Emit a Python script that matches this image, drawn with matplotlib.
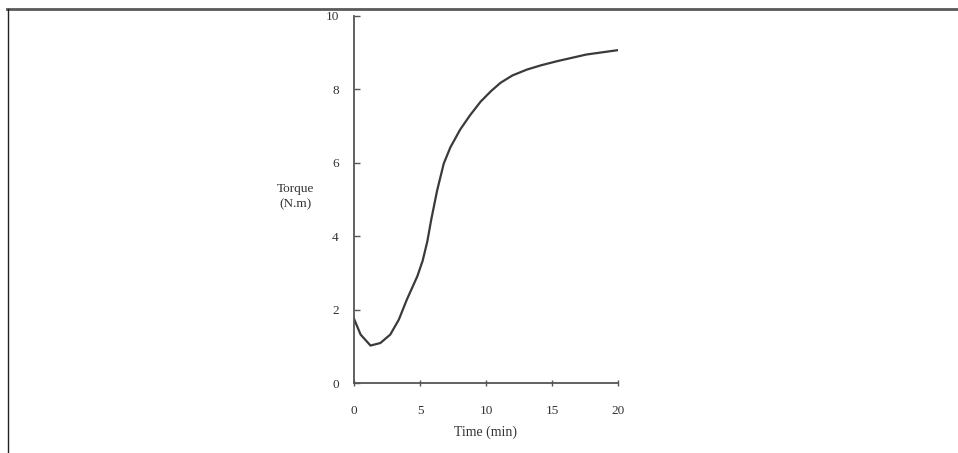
import matplotlib.pyplot as plt
from matplotlib.lines import Line2D

# values
time_min = [0, 0.5, 1.25, 2.0, 2.75, 3.4, 4.0, 4.8, 5.2, 5.55, 5.85, 6.3, 6.8,
            7.3, 8.05, 8.8, 9.6, 10.4, 11.1, 12.0, 13.1, 14.2, 15.4, 16.5,
            17.6, 18.8, 20]
torque = [1.75, 1.32, 1.02, 1.09, 1.32, 1.73, 2.27, 2.91, 3.33, 3.85, 4.45,
          5.25, 5.98, 6.42, 6.91, 7.3, 7.67, 7.96, 8.18, 8.38, 8.54, 8.66,
          8.77, 8.86, 8.95, 9.01, 9.07]

x_ticks = [0, 5, 10, 15, 20]
y_ticks = [0, 2, 4, 6, 8, 10]

plt.rcParams["font.family"] = ["Liberation Serif", "DejaVu Serif"]

fig = plt.figure(figsize=(9.58, 4.53), dpi=100)
ax = fig.add_axes([354 / 958, 70 / 453, 264 / 958, 367 / 453])

ax.plot(time_min, torque, color="#3a3a3a", linewidth=1.6,
        solid_joinstyle="round")

ax.set_xlim(0, 20)
ax.set_ylim(0, 10)
ax.set_xticks(x_ticks)
ax.set_yticks(y_ticks)

for side in ["top", "right"]:
    ax.spines[side].set_visible(False)
for side in ["left", "bottom"]:
    ax.spines[side].set_color("#555555")
    ax.spines[side].set_linewidth(1.3)

ax.tick_params(axis="x", direction="inout", length=5, width=1, color="#555555",
               pad=13, labelsize=9.5, labelcolor="#333333")
ax.tick_params(axis="y", direction="in", length=4, width=1, color="#555555",
               pad=11, labelsize=9.5, labelcolor="#333333")

ax.set_xlabel("Time (min)", fontsize=10, color="#333333")
ax.xaxis.set_label_coords(0.5, -0.134)
ax.xaxis.label.set_va("center")

ax.set_ylabel("Torque\n(N.m)", fontsize=9.5, color="#333333", rotation=0,
              ha="center", va="center", linespacing=1.3)
ax.yaxis.set_label_coords(-0.223, 0.508)

# page frame lines
fig.add_artist(Line2D([7 / 958, 1], [1 - 9 / 453, 1 - 9 / 453],
                      transform=fig.transFigure, color="#5a5a5a", linewidth=2))
fig.add_artist(Line2D([7.5 / 958, 7.5 / 958], [0, 1 - 9 / 453],
                      transform=fig.transFigure, color="#222222", linewidth=1))

plt.savefig("out.png", dpi=100)
